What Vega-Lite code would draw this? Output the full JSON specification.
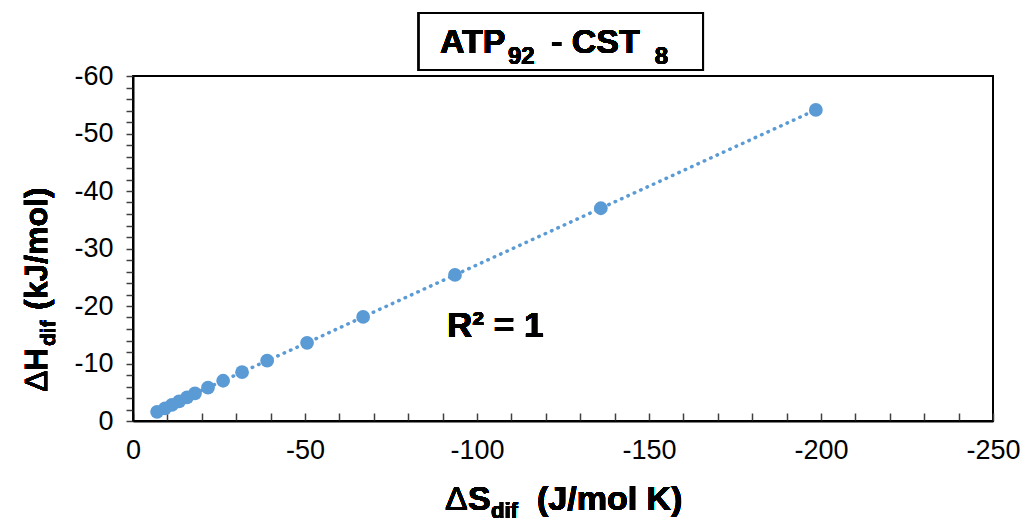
{
  "$schema": "https://vega.github.io/schema/vega-lite/v6.json",
  "width": 860,
  "height": 345,
  "autosize": {"type": "none"},
  "padding": {"left": 133, "top": 76, "right": 37, "bottom": 101},
  "background": "white",
  "config": {
    "font": "Liberation Sans",
    "view": {"stroke": "black", "strokeWidth": 2},
    "axis": {
      "grid": false,
      "title": null,
      "domainColor": "black",
      "domainWidth": 2,
      "tickColor": "#404040",
      "tickWidth": 1.5,
      "labelFont": "Liberation Sans",
      "labelFontSize": 27,
      "labelColor": "black",
      "labelOverlap": false,
      "labelFlush": false
    }
  },
  "data": {
    "values": [
      {"dS": -198.5, "dH": -54.1},
      {"dS": -136.0, "dH": -37.0},
      {"dS": -93.6, "dH": -25.4},
      {"dS": -66.9, "dH": -18.1},
      {"dS": -50.6, "dH": -13.6},
      {"dS": -39.0, "dH": -10.5},
      {"dS": -31.7, "dH": -8.5},
      {"dS": -26.2, "dH": -7.0},
      {"dS": -21.8, "dH": -5.8},
      {"dS": -18.0, "dH": -4.8},
      {"dS": -15.7, "dH": -4.1},
      {"dS": -13.4, "dH": -3.4},
      {"dS": -11.3, "dH": -2.8},
      {"dS": -9.3, "dH": -2.2},
      {"dS": -7.0, "dH": -1.6}
    ]
  },
  "encoding": {
    "x": {
      "field": "dS", "type": "quantitative",
      "scale": {"domain": [0, -250], "nice": false, "zero": false},
      "axis": {
        "values": [0,-10,-20,-30,-40,-50,-60,-70,-80,-90,-100,-110,-120,-130,-140,-150,-160,-170,-180,-190,-200,-210,-220,-230,-240,-250],
        "labelExpr": "datum.value % 50 == 0 ? toString(datum.value) : ''",
        "tickSize": -8,
        "labelPadding": 24
      }
    },
    "y": {
      "field": "dH", "type": "quantitative",
      "scale": {"domain": [0, -60], "nice": false, "zero": false},
      "axis": {
        "values": [0,-2,-4,-6,-8,-10,-12,-14,-16,-18,-20,-22,-24,-26,-28,-30,-32,-34,-36,-38,-40,-42,-44,-46,-48,-50,-52,-54,-56,-58,-60],
        "labelExpr": "datum.value % 10 == 0 ? toString(datum.value) : ''",
        "tickSize": 7,
        "labelPadding": 13
      }
    }
  },
  "layer": [
    {
      "mark": {"type": "line", "color": "#5B9BD5", "strokeWidth": 3.5, "strokeDash": [0.5, 6.5], "strokeCap": "round"}
    },
    {
      "mark": {"type": "circle", "color": "#5B9BD5", "opacity": 1, "size": 190}
    },
    {
      "mark": {"type": "rect", "fill": "white", "stroke": "black", "strokeWidth": 2},
      "encoding": {
        "x": {"datum": -83.1, "type": "quantitative"},
        "x2": {"datum": -165.7},
        "y": {"datum": -70.96, "type": "quantitative"},
        "y2": {"datum": -61.04}
      }
    },
    {
      "mark": {"type": "text", "text": "ATP", "fontSize": 34, "fontWeight": "bold", "align": "left", "baseline": "alphabetic", "color": "black"},
      "encoding": {"x": {"datum": -89.24, "type": "quantitative"}, "y": {"datum": -64.0, "type": "quantitative"}}
    },
    {
      "mark": {"type": "text", "text": "92", "fontSize": 24, "fontWeight": "bold", "align": "left", "baseline": "alphabetic", "color": "black"},
      "encoding": {"x": {"datum": -109.0, "type": "quantitative"}, "y": {"datum": -62.09, "type": "quantitative"}}
    },
    {
      "mark": {"type": "text", "text": "- CST", "fontSize": 34, "fontWeight": "bold", "align": "left", "baseline": "alphabetic", "color": "black"},
      "encoding": {"x": {"datum": -121.5, "type": "quantitative"}, "y": {"datum": -64.0, "type": "quantitative"}}
    },
    {
      "mark": {"type": "text", "text": "8", "fontSize": 24, "fontWeight": "bold", "align": "left", "baseline": "alphabetic", "color": "black"},
      "encoding": {"x": {"datum": -151.7, "type": "quantitative"}, "y": {"datum": -62.09, "type": "quantitative"}}
    },
    {
      "mark": {"type": "text", "text": "R² = 1", "fontSize": 35, "fontWeight": "bold", "align": "left", "baseline": "alphabetic", "color": "black"},
      "encoding": {"x": {"datum": -91.3, "type": "quantitative"}, "y": {"datum": -14.6, "type": "quantitative"}}
    },
    {
      "mark": {"type": "text", "text": "Δ", "fontSize": 34, "align": "left", "baseline": "alphabetic", "color": "black"},
      "encoding": {"x": {"datum": -90.7, "type": "quantitative"}, "y": {"datum": 15.5, "type": "quantitative"}}
    },
    {
      "mark": {"type": "text", "text": "S", "fontSize": 34, "fontWeight": "bold", "align": "left", "baseline": "alphabetic", "color": "black"},
      "encoding": {"x": {"datum": -97.38, "type": "quantitative"}, "y": {"datum": 15.5, "type": "quantitative"}}
    },
    {
      "mark": {"type": "text", "text": "dif", "fontSize": 22, "fontWeight": "bold", "align": "left", "baseline": "alphabetic", "color": "black"},
      "encoding": {"x": {"datum": -104.07, "type": "quantitative"}, "y": {"datum": 16.9, "type": "quantitative"}}
    },
    {
      "mark": {"type": "text", "text": "(J/mol K)", "fontSize": 34, "fontWeight": "bold", "align": "left", "baseline": "alphabetic", "color": "black"},
      "encoding": {"x": {"datum": -117.44, "type": "quantitative"}, "y": {"datum": 15.5, "type": "quantitative"}}
    },
    {
      "mark": {"type": "text", "text": "Δ", "fontSize": 32, "angle": 270, "align": "left", "baseline": "alphabetic", "color": "black"},
      "encoding": {"x": {"datum": 25.0, "type": "quantitative"}, "y": {"datum": -5.04, "type": "quantitative"}}
    },
    {
      "mark": {"type": "text", "text": "H", "fontSize": 32, "fontWeight": "bold", "angle": 270, "align": "left", "baseline": "alphabetic", "color": "black"},
      "encoding": {"x": {"datum": 25.0, "type": "quantitative"}, "y": {"datum": -8.7, "type": "quantitative"}}
    },
    {
      "mark": {"type": "text", "text": "dif", "fontSize": 21, "fontWeight": "bold", "angle": 270, "align": "left", "baseline": "alphabetic", "color": "black"},
      "encoding": {"x": {"datum": 22.7, "type": "quantitative"}, "y": {"datum": -13.04, "type": "quantitative"}}
    },
    {
      "mark": {"type": "text", "text": "(kJ/mol)", "fontSize": 32, "fontWeight": "bold", "angle": 270, "align": "left", "baseline": "alphabetic", "color": "black"},
      "encoding": {"x": {"datum": 25.0, "type": "quantitative"}, "y": {"datum": -19.3, "type": "quantitative"}}
    }
  ]
}
